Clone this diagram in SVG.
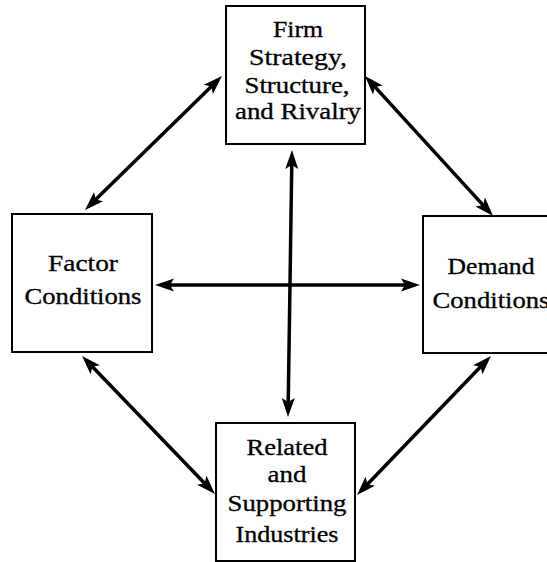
<svg xmlns="http://www.w3.org/2000/svg" width="547" height="562" viewBox="0 0 547 562">
<style>
.box{fill:#fff;stroke:#000;stroke-width:2}
.t{font-family:"Liberation Serif","Times New Roman",serif;font-size:23px;fill:#000;stroke:#000;stroke-width:0.3;text-anchor:middle}
.c{stroke:#000;stroke-width:3.5;fill:none;marker-start:url(#ah);marker-end:url(#ah)}
</style>
<defs>
<marker id="ah" markerUnits="userSpaceOnUse" viewBox="-20 -8 28 16" refX="-6" refY="0" markerWidth="28" markerHeight="16" orient="auto-start-reverse">
<path d="M0,0 L-19,-6.5 L-15,0 L-19,6.5 Z" fill="#000"/>
</marker>
</defs>
<rect width="547" height="562" fill="#fff"/>
<g id="connectors">
<line class="c" x1="217.7" y1="80.2" x2="89.3" y2="205.8"/>
<line class="c" x1="369" y1="80.4" x2="489" y2="211.6"/>
<line class="c" x1="161" y1="285" x2="414" y2="285"/>
<line class="c" x1="291.9" y1="156" x2="288.1" y2="411"/>
<line class="c" x1="86.2" y1="360.3" x2="210.8" y2="489.7"/>
<line class="c" x1="486.8" y1="360.3" x2="361.2" y2="490.7"/>
</g>
<g id="firm">
<rect class="box" x="226" y="6" width="139" height="138"/>
<text class="t" x="298" y="37" textLength="50" lengthAdjust="spacingAndGlyphs">Firm</text>
<text class="t" x="298" y="65" textLength="98" lengthAdjust="spacingAndGlyphs">Strategy,</text>
<text class="t" x="297" y="93" textLength="105" lengthAdjust="spacingAndGlyphs">Structure,</text>
<text class="t" x="298" y="119" textLength="126" lengthAdjust="spacingAndGlyphs">and Rivalry</text>
</g>
<g id="factor">
<rect class="box" x="12" y="214" width="140" height="138"/>
<text class="t" x="83" y="271" textLength="70" lengthAdjust="spacingAndGlyphs">Factor</text>
<text class="t" x="83" y="304" textLength="117" lengthAdjust="spacingAndGlyphs">Conditions</text>
</g>
<g id="demand">
<rect class="box" x="423" y="216" width="140" height="137"/>
<text class="t" x="491" y="274" textLength="87" lengthAdjust="spacingAndGlyphs">Demand</text>
<text class="t" x="491" y="308" textLength="117" lengthAdjust="spacingAndGlyphs">Conditions</text>
</g>
<g id="related">
<rect class="box" x="216" y="423" width="139" height="138"/>
<text class="t" x="287" y="455" textLength="81" lengthAdjust="spacingAndGlyphs">Related</text>
<text class="t" x="287" y="482" textLength="39" lengthAdjust="spacingAndGlyphs">and</text>
<text class="t" x="287" y="511" textLength="119" lengthAdjust="spacingAndGlyphs">Supporting</text>
<text class="t" x="287" y="542" textLength="103" lengthAdjust="spacingAndGlyphs">Industries</text>
</g>
</svg>
